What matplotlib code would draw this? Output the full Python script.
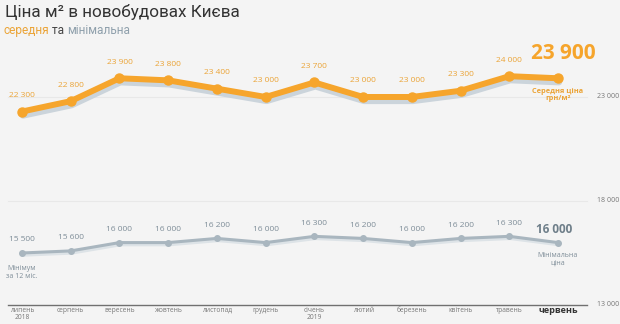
import matplotlib
matplotlib.use("Agg")
import matplotlib.pyplot as plt
import matplotlib.transforms as mtransforms

months = ["липень\n2018", "серпень", "вересень", "жовтень", "листопад", "грудень",
          "січень\n2019", "лютий", "березень", "квітень", "травень", "червень"]
avg_price = [22300, 22800, 23900, 23800, 23400, 23000, 23700, 23000, 23000, 23300, 24000, 23900]
min_price = [15500, 15600, 16000, 16000, 16200, 16000, 16300, 16200, 16000, 16200, 16300, 16000]
y_ticks = [13000, 18000, 23000]

ORANGE = "#f6a52c"
ORANGE_TXT = "#eba437"
GREY = "#a9b6bf"
GREY_TXT = "#7e8d98"
SHADOW = "#cbd4db"
BG = "#f4f4f4"


def fmt(v):
    return f"{v:,}".replace(",", " ")


plt.rcParams["font.family"] = ["Open Sans", "DejaVu Sans"]

fig = plt.figure(figsize=(6.2, 3.24), dpi=100, facecolor=BG)
ax = fig.add_axes([0, 0, 1, 1], facecolor=BG)
ax.set_xlim(-0.4515, 12.272)
ax.set_ylim(12086, 27663)
ax.axis("off")

x = list(range(len(months)))

# faint gridlines + base axis
for t in y_ticks:
    if t == y_ticks[0]:
        ax.plot([-0.29, 11.6], [t, t], color="#707070", lw=1.0, zorder=1)
    else:
        ax.plot([-0.29, 11.6], [t, t], color="#e8e8e8", lw=0.8, zorder=1)
    ax.text(12.02, t, fmt(t), fontsize=5, color="#777777", ha="center", va="center")

# shadows under the lines
shadow_tr = mtransforms.offset_copy(ax.transData, fig=fig, x=1, y=-4, units="dots")
ax.plot(x, avg_price, color=SHADOW, lw=4.5, transform=shadow_tr, zorder=2,
        solid_capstyle="round", solid_joinstyle="round")
shadow_tr2 = mtransforms.offset_copy(ax.transData, fig=fig, x=1, y=-2, units="dots")
ax.plot(x, min_price, color="#dde3e7", lw=2.5, transform=shadow_tr2, zorder=2)

ax.plot(x, avg_price, color=ORANGE, lw=4.3, marker="o", ms=6.5, zorder=3,
        solid_capstyle="round", solid_joinstyle="round")
ax.plot(x, min_price, color=GREY, lw=2.2, marker="o", ms=4, zorder=3,
        solid_joinstyle="round")

# value labels
for i in x[:-1]:
    ax.annotate(fmt(avg_price[i]), (i, avg_price[i]), xytext=(0, 9), textcoords="offset points",
                fontsize=6, color=ORANGE_TXT, ha="center", va="bottom")
    ax.annotate(fmt(min_price[i]), (i, min_price[i]), xytext=(0, 7), textcoords="offset points",
                fontsize=6, color=GREY_TXT, ha="center", va="bottom")

ax.annotate(fmt(avg_price[-1]), (x[-1], avg_price[-1]), xytext=(4, 10), textcoords="offset points",
            fontsize=15, fontweight="bold", color=ORANGE, ha="center", va="bottom")
ax.annotate(fmt(min_price[-1]), (x[-1], min_price[-1]), xytext=(-3, 5), textcoords="offset points",
            fontsize=8.5, fontweight="bold", color="#6f7f8a", ha="center", va="bottom")

ax.annotate("Середня ціна\nгрн/м²", (x[-1], avg_price[-1]), xytext=(0, -7), textcoords="offset points",
            fontsize=5.3, fontweight="bold", color=ORANGE_TXT, ha="center", va="top",
            linespacing=1.1)
ax.annotate("Мінімальна\nціна", (x[-1], min_price[-1]), xytext=(0, -7), textcoords="offset points",
            fontsize=5, color=GREY_TXT, ha="center", va="top", linespacing=1.1)
ax.annotate("Мінімум\nза 12 міс.", (x[0], min_price[0]), xytext=(0, -9), textcoords="offset points",
            fontsize=5, color=GREY_TXT, ha="center", va="top", linespacing=1.1)

# month labels
for i, m in enumerate(months):
    if i == len(months) - 1:
        ax.text(i, 12950, m, fontsize=6.5, fontweight="bold", color="#333333",
                ha="center", va="top")
    else:
        ax.text(i, 12920, m, fontsize=4.8, color="#777777", ha="center", va="top",
                linespacing=1.1)

# title block
fig.text(0.008, 0.963, "Ціна м² в новобудовах Києва", family=["Roboto", "DejaVu Sans"],
         fontsize=12.3, color="#333333", ha="left", va="center")
sub = fig.text(0.005, 0.905, "середня", family=["Roboto", "DejaVu Sans"], fontsize=8.6,
               color=ORANGE_TXT, ha="left", va="center")
fig.canvas.draw()
bb = sub.get_window_extent()
t2 = ax.annotate(" та ", xy=(bb.x1, bb.y0), xycoords="figure pixels", family=["Roboto", "DejaVu Sans"],
                 fontsize=8.6, color="#444444", ha="left", va="bottom")
fig.canvas.draw()
bb2 = t2.get_window_extent()
ax.annotate("мінімальна", xy=(bb2.x1, bb.y0), xycoords="figure pixels",
            family=["Roboto", "DejaVu Sans"], fontsize=8.6, color="#8fa0ac", ha="left", va="bottom")

fig.savefig("out.png", dpi=100, facecolor=BG)
